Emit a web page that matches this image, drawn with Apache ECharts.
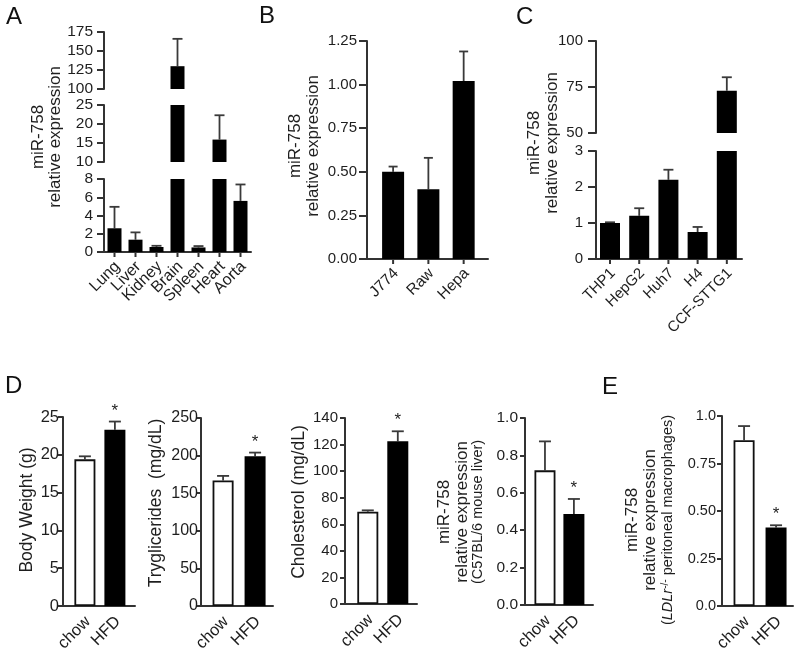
<!DOCTYPE html>
<html><head><meta charset="utf-8">
<script src="https://cdn.jsdelivr.net/npm/echarts@6/dist/echarts.min.js"></script>
<style>html,body{margin:0;padding:0;background:#fff}#c{width:800px;height:663px}</style>
</head><body><div id="c"></div>
<script>
// ---------------- data ----------------
const tissueCats = ['Lung','Liver','Kidney','Brain','Spleen','Heart','Aorta'];
const tissueMean = [2.6, 1.35, 0.55, 130, 0.5, 15.9, 5.6];
const tissueErrTop = [4.95, 2.15, 0.68, 166, 0.65, 22.3, 7.4];
const tissueSegLow = [0, 8, 2];      // min, max, tick step
const tissueSegMid = [10, 25, 5];
const tissueSegHigh = [100, 175, 25];

const mouseCellCats = ['J774','Raw','Hepa'];
const mouseCellMean = [0.50, 0.40, 1.02];
const mouseCellErrTop = [0.53, 0.58, 1.19];

const humanCellCats = ['THP1','HepG2','Huh7','H4','CCF-STTG1'];
const humanCellMean = [1.0, 1.2, 2.2, 0.75, 73];
const humanCellErrTop = [1.02, 1.41, 2.48, 0.89, 80.3];
const humanSegLow = [0, 3, 1];
const humanSegHigh = [50, 100, 25];

const dietCats = ['chow','HFD'];
const dietSig = [false, true];
const bodyWeight = [19.4, 23.3];
const bodyWeightErrTop = [19.8, 24.4];
const triglycerides = [167, 199];
const triglyceridesErrTop = [173, 204];
const cholesterol = [69.5, 122.5];
const cholesterolErrTop = [70.5, 130];
const liverMiR = [0.72, 0.486];
const liverMiRErrTop = [0.875, 0.567];
const macrophageMiR = [0.872, 0.413];
const macrophageMiRErrTop = [0.947, 0.425];
const macrophageTickLabels = ['0.0','0.25','0.50','0.75','1.0'];

// ---------------- build ----------------
const FONT = '"Liberation Sans", Arial, Helvetica, sans-serif';
const TX = '#1e1e1e', AX = '#333';
const option = {animation:false, backgroundColor:'#fff', grid:[], xAxis:[], yAxis:[], series:[], graphic:[]};

function addPanel(p){
  const gi = option.grid.length;
  option.grid.push({left:p.left, top:p.top, width:p.width, height:p.height});
  option.xAxis.push({type:'value', gridIndex:gi, min:p.xMin, max:p.xMax, show:p.showX,
    axisLine:{show:true, onZero:false, lineStyle:{color:AX, width:2}},
    axisTick:{show:false}, axisLabel:{show:false}, splitLine:{show:false}});
  option.yAxis.push({type:'value', gridIndex:gi, min:p.seg[0], max:p.seg[1], interval:p.seg[2],
    axisLine:{show:true, onZero:false, lineStyle:{color:AX, width:2}},
    axisTick:{show:true, length:p.tickLen, lineStyle:{color:AX, width:2}},
    axisLabel:{show:true, margin:p.margin, color:TX, fontSize:p.ySize, fontFamily:FONT, formatter:p.fmt || (v => String(v))},
    splitLine:{show:false}});
  option.series.push({type:'bar', xAxisIndex:gi, yAxisIndex:gi, barWidth:p.barW, clip:true,
    data:p.mean.map((v,i)=>({value:[i,v], itemStyle: (p.white && p.white[i]) ?
      {color:'#fff', borderColor:'#111', borderWidth:1.8} : {color:'#000'}}))});
  const yMin = p.seg[0];
  option.series.push({type:'custom', xAxisIndex:gi, yAxisIndex:gi, clip:false,
    data:p.mean.map((v,i)=>[i, v, p.err[i]]),
    renderItem:function(params, api){
      const i = api.value(0), v = api.value(1), e = api.value(2);
      const cs = params.coordSys;
      const top = cs.y, bot = cs.y + cs.height;
      const pv = api.coord([i, v]), pe = api.coord([i, e]);
      const x = pv[0];
      const ch = [];
      if (pe[1] <= bot) {
        const y1 = Math.min(pv[1], bot), y2 = Math.max(pe[1], top);
        if (y1 > y2) ch.push({type:'line', shape:{x1:x, y1:y1, x2:x, y2:y2}, style:{stroke:'#3a3a3a', lineWidth:1.8}});
        if (pe[1] >= top) {
          ch.push({type:'line', shape:{x1:x-p.cap, y1:pe[1], x2:x+p.cap, y2:pe[1]}, style:{stroke:'#3a3a3a', lineWidth:1.8}});
          if (p.sig && p.sig[i]) ch.push({type:'text', x:x, y:pe[1]-2,
            style:{text:'*', fill:TX, fontSize:17, fontFamily:FONT, align:'center', verticalAlign:'bottom'}});
        }
      }
      if (p.showX) {
        const pb = api.coord([i, yMin]);
        if (p.xTicks) ch.push({type:'line', shape:{x1:x, y1:pb[1], x2:x, y2:pb[1]+5}, style:{stroke:AX, lineWidth:2}});
        ch.push({type:'text', x:x+3, y:pb[1]+p.lblGap, rotation:Math.PI/4,
          style:{text:p.cats[i], fill:TX, fontSize:p.catSize, fontFamily:FONT, align:'right', verticalAlign:'middle'}});
      }
      return {type:'group', children:ch};
    }});
}

// Panel A (broken axis, three segments)
const A = {left:104, width:147, xMin:-0.5, xMax:6.5, cats:tissueCats, mean:tissueMean, err:tissueErrTop,
  barW:14, cap:5, ySize:15.5, margin:11, tickLen:7, catSize:16, lblGap:12, xTicks:true};
addPanel(Object.assign({}, A, {top:32, height:57, seg:tissueSegHigh, showX:false}));
addPanel(Object.assign({}, A, {top:105, height:57, seg:tissueSegMid, showX:false}));
addPanel(Object.assign({}, A, {top:179, height:73, seg:tissueSegLow, showX:true}));

// Panel B
addPanel({left:367, width:121, top:41, height:218, xMin:-0.74, xMax:2.69, seg:[0,1.25,0.25],
  fmt:v=>v.toFixed(2), cats:mouseCellCats, mean:mouseCellMean, err:mouseCellErrTop,
  barW:22, cap:4.5, ySize:15, margin:10, tickLen:8, catSize:15.5, lblGap:12, showX:true, xTicks:true});

// Panel C (broken axis)
const C = {left:596, width:146, xMin:-0.48, xMax:4.52, cats:humanCellCats, mean:humanCellMean, err:humanCellErrTop,
  barW:20, cap:5, ySize:15, margin:13, tickLen:8, catSize:15, lblGap:12, xTicks:true};
addPanel(Object.assign({}, C, {top:41, height:92, seg:humanSegHigh, showX:false}));
addPanel(Object.assign({}, C, {top:151, height:108, seg:humanSegLow, showX:true}));

// Panel D
const D = {cats:dietCats, sig:dietSig, white:[true,false], barW:21, cap:6, tickLen:5, catSize:16.5, lblGap:13, showX:true, xTicks:false};
addPanel(Object.assign({}, D, {left:63, width:72, top:417, height:189, xMin:-0.73, xMax:1.67, seg:[0,25,5],
  ySize:16.5, margin:4, mean:bodyWeight, err:bodyWeightErrTop}));
addPanel(Object.assign({}, D, {left:201, width:72, top:418, height:188, xMin:-0.69, xMax:1.56, seg:[0,250,50],
  ySize:16, margin:3, mean:triglycerides, err:triglyceridesErrTop}));
addPanel(Object.assign({}, D, {left:345, width:72, top:418, height:186, xMin:-0.76, xMax:1.64, seg:[0,140,20],
  ySize:15, margin:7, mean:cholesterol, err:cholesterolErrTop}));
addPanel(Object.assign({}, D, {left:525, width:68, top:418, height:187, xMin:-0.69, xMax:1.66, seg:[0,1,0.2],
  ySize:15.5, margin:7, fmt:v=>v.toFixed(1), mean:liverMiR, err:liverMiRErrTop}));

// Panel E
addPanel(Object.assign({}, D, {left:722, width:71, top:416, height:190, xMin:-0.69, xMax:1.53, seg:[0,1,0.25],
  ySize:14.5, margin:6, fmt:v=>macrophageTickLabels[Math.round(v/0.25)], mean:macrophageMiR, err:macrophageMiRErrTop}));

// ---------------- texts ----------------
function letter(t, x, y){
  option.graphic.push({type:'text', x:x, y:y, style:{text:t, fill:'#111', fontSize:24, fontFamily:FONT, align:'left', verticalAlign:'middle'}});
}
letter('A', 6, 17); letter('B', 259, 16); letter('C', 516, 17); letter('D', 5, 386); letter('E', 602, 387);

function vtext(t, x, y, size, rich){
  const el = {type:'text', x:x, y:y, rotation:Math.PI/2,
    style:{text:t, fill:TX, fontSize:size, fontFamily:FONT, align:'center', verticalAlign:'middle'}};
  if (rich) el.style.rich = rich;
  option.graphic.push(el);
}
vtext('miR-758', 38, 137, 17); vtext('relative expression', 55, 137, 17);
vtext('miR-758', 295, 146, 17); vtext('relative expression', 313, 146, 17);
vtext('miR-758', 534, 143, 17); vtext('relative expression', 552, 143, 17);
vtext('Body Weight (g)', 27, 510, 17.5);
vtext('Tryglicerides  (mg/dL)', 156, 503, 17.5);
vtext('Cholesterol (mg/dL)', 299, 502, 17.5);
vtext('miR-758', 444, 512, 17); vtext('relative expression', 462, 512, 17);
vtext('(C57BL/6 mouse liver)', 478, 512, 14.5);
vtext('miR-758', 632, 520, 17); vtext('relative expression', 650, 520, 17);
vtext('{p|(}{it|LDLr}{sup|-/-}{p| peritoneal macrophages)}', 668, 520, 14.5, {
  p:{fontSize:14.5, fontFamily:FONT, fill:TX, color:TX},
  it:{fontSize:14.5, fontFamily:FONT, fontStyle:'italic', fill:TX, color:TX},
  sup:{fontSize:10, fontFamily:FONT, fill:TX, color:TX, verticalAlign:'top'}
});

const chart = echarts.init(document.getElementById('c'), null, {renderer:'canvas'});
chart.setOption(option);
</script>
</body></html>
